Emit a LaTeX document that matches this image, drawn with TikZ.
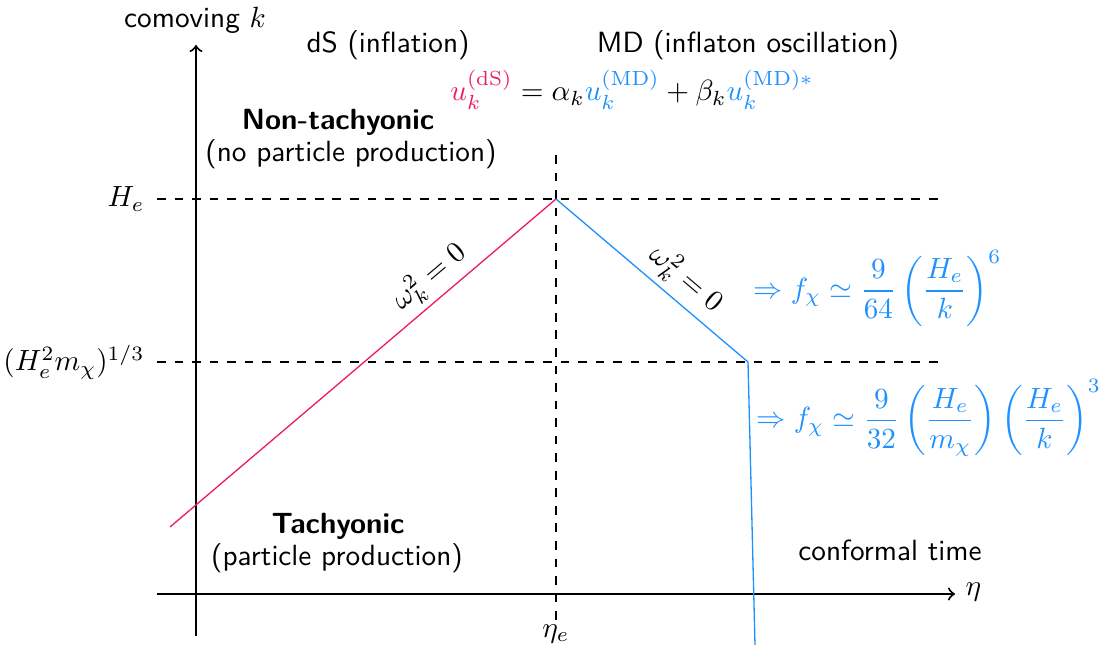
\documentclass[tikz,border=0pt]{standalone}
\usepackage{amsmath}
\definecolor{myred}{RGB}{236,28,100}
\definecolor{myblue}{RGB}{30,144,255}
\tikzset{
  axis/.style={line width=0.7pt,->},
  guide/.style={dashed,line width=0.55pt},
  curvered/.style={myred,line width=0.45pt},
  curveblue/.style={myblue,line width=0.45pt},
  lbl/.style={font=\sffamily,inner sep=1pt},
  omega/.style={text=black,pos=#1,sloped,above,inner sep=2pt},
}
\begin{document}
\begin{tikzpicture}[x=0.342pt,y=-0.342pt]
\useasboundingbox (0,0) rectangle (1100,645);
% axes
\coordinate (yb) at (196,636);
\coordinate (yt) at (196,45);
\coordinate (xl) at (157,594);
\coordinate (xr) at (955,594);
\draw[axis] (yb) -- (yt);
\draw[axis] (xl) -- (xr);
\node[lbl,anchor=west] (eta) at (962,592) {$\eta$};
\node[lbl] (comov) at (195,20) {comoving $k$};
% dashed guides
\coordinate (he1) at (157,199);
\coordinate (he2) at (945,199);
\coordinate (hm1) at (157,362);
\coordinate (hm2) at (945,362);
\coordinate (ve1) at (556,155);
\coordinate (ve2) at (556,620);
\draw[guide] (he1) -- (he2);
\draw[guide] (hm1) -- (hm2);
\draw[guide] (ve1) -- (ve2);
\node[lbl,anchor=east] (He) at (148,199) {$H_e$};
\node[lbl,anchor=east] (Hm) at (148,362) {$(H_e^2 m_\chi)^{1/3}$};
\node[lbl] (etae) at (556,634) {$\eta_e$};
% headings
\node[lbl] (ds) at (388,45) {dS (inflation)};
\node[lbl] (md) at (748,45) {MD (inflaton oscillation)};
\node[lbl] (eq) at (632,90) {$\textcolor{myred}{u_k^{(\mathrm{dS})}} = \alpha_k \textcolor{myblue}{u_k^{(\mathrm{MD})}} + \beta_k \textcolor{myblue}{u_k^{(\mathrm{MD})*}}$};
\node[lbl] (nt1) at (338,122) {\bfseries Non-tachyonic};
\node[lbl] (nt2) at (351,154) {(no particle production)};
\node[lbl] (t1) at (338,526) {\bfseries Tachyonic};
\node[lbl] (t2) at (337,558) {(particle production)};
\node[lbl] (ct) at (890,550) {conformal time};
% curves
\coordinate (r0) at (170,527);
\coordinate (pk) at (556,199);
\coordinate (kn) at (748,362);
\coordinate (bt) at (755,645);
\draw[curvered] (r0) -- node[omega=0.71] (wr) {$\omega_k^2=0$} (pk);
\draw[curveblue] (pk) -- node[omega=0.6] (wb) {$\omega_k^2=0$} (kn) -- (bt);
% results
\node[lbl,anchor=west,myblue] (f1) at (750,288) {$\Rightarrow f_\chi \simeq \dfrac{9}{64}\left(\dfrac{H_e}{k}\right)^6$};
\node[lbl,anchor=west,myblue] (f2) at (753,418) {$\Rightarrow f_\chi \simeq \dfrac{9}{32}\left(\dfrac{H_e}{m_\chi}\right)\left(\dfrac{H_e}{k}\right)^3$};
\end{tikzpicture}
\end{document}
